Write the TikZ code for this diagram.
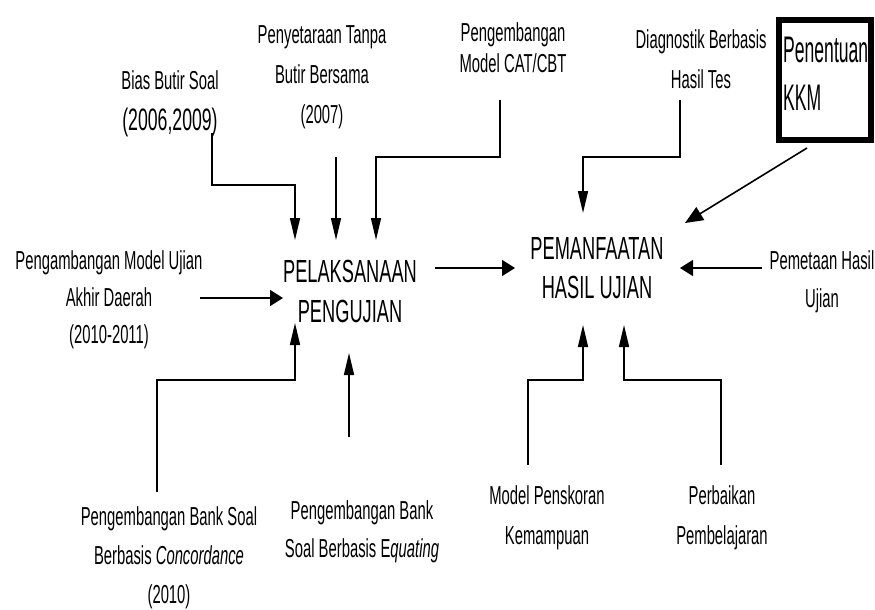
\documentclass[tikz,border=0pt]{standalone}
\usepackage{fontspec}
\setmainfont{Liberation Sans}[FakeStretch=0.57]
\newfontfamily\kkmfont{Liberation Sans}[FakeStretch=0.475]
\usetikzlibrary{arrows.meta}
\tikzset{
  lbl/.style={align=center, inner sep=0pt, font=\fontsize{26}{39}\selectfont},
  big/.style={align=center, inner sep=0pt, font=\fontsize{32}{40}\selectfont},
  conn/.style={line width=1.6pt},
  varr/.style={conn, -{Triangle[length=22pt,width=10pt]}},
  harr/.style={conn, -{Triangle[length=13pt,width=16pt]}},
  darr/.style={conn, -{Triangle[length=18pt,width=15pt]}},
}
\begin{document}
\begin{tikzpicture}[x=1pt,y=-1pt]
\useasboundingbox (0,0) rectangle (875,610);
% text nodes
\node[lbl, font=\fontsize{26}{41}\selectfont] (bias) at (170,104) {Bias Butir Soal\\{\fontsize{31}{41}\selectfont(2006,2009)}};
\node[lbl, font=\fontsize{26}{40}\selectfont] (peny) at (322,77) {Penyetaraan Tanpa\\Butir Bersama\\(2007)};
\node[lbl, font=\fontsize{26}{31}\selectfont] (cat) at (513,48) {Pengembangan\\Model CAT/CBT};
\node[lbl, font=\fontsize{26}{40}\selectfont] (diag) at (701,59) {Diagnostik Berbasis\\Hasil Tes};
\node[lbl, font=\fontsize{26}{37}\selectfont] (pud) at (109,300) {Pengambangan Model Ujian\\Akhir Daerah\\(2010-2011)};
\node[big] (pel) at (350,291) {PELAKSANAAN\\PENGUJIAN};
\node[big, font=\fontsize{32}{39}\selectfont] (pem) at (597,268) {PEMANFAATAN\\HASIL UJIAN};
\node[lbl, font=\fontsize{26}{38}\selectfont] (pmt) at (822,282) {Pemetaan Hasil\\Ujian};
\node[lbl] (conc) at (169,558) {Pengembangan Bank Soal\\Berbasis \textit{Concordance}\\(2010)};
\node[lbl, font=\fontsize{26}{38}\selectfont] (equ) at (362,532) {Pengembangan Bank\\Soal Berbasis E\textit{quating}};
\node[lbl, font=\fontsize{26}{40}\selectfont] (mod) at (547,518) {Model Penskoran\\Kemampuan};
\node[lbl, font=\fontsize{26}{40}\selectfont] (perb) at (722,518) {Perbaikan\\Pembelajaran};
% KKM box
\node[draw, line width=6pt, minimum width=92pt, minimum height=120pt, inner sep=0pt] (kkmbox) at (825,80) {};
\node[anchor=north west, inner sep=0pt, align=left, font=\kkmfont\fontsize{37}{48}\selectfont] (kkm) at (783,37) {Penentuan\\KKM};
% connector coordinates
\coordinate (biasS) at (212,133);
\coordinate (pelT1) at (295,240);
\coordinate (penyS) at (336,157);
\coordinate (pelT2) at (336,240);
\coordinate (catS) at (500,100);
\coordinate (pelT3) at (376,240);
\coordinate (diagS) at (680,100);
\coordinate (pemT1) at (583,213);
\coordinate (kkmS) at (807,148);
\coordinate (pemT2) at (685,223);
\coordinate (pudE) at (200,298);
\coordinate (pelL) at (283,298);
\coordinate (pelR) at (435,268);
\coordinate (pemL) at (515,268);
\coordinate (pmtS) at (762,268);
\coordinate (pemR) at (680,268);
\coordinate (concN) at (157,492);
\coordinate (pelB1) at (295,323);
\coordinate (equN) at (349,437);
\coordinate (pelB2) at (349,353);
\coordinate (modN) at (528,465);
\coordinate (pemB1) at (583,325);
\coordinate (perbN) at (721,465);
\coordinate (pemB2) at (624,325);
% connectors
\draw[varr] (biasS) |- (253,185) -| (pelT1);
\draw[varr] (penyS) -- (pelT2);
\draw[varr] (catS) |- (438,157) -| (pelT3);
\draw[varr] (diagS) |- (630,157) -| (pemT1);
\draw[darr] (kkmS) -- (pemT2);
\draw[harr] (pudE) -- (pelL);
\draw[harr] (pelR) -- (pemL);
\draw[harr] (pmtS) -- (pemR);
\draw[varr] (concN) |- (226,380) -| (pelB1);
\draw[varr] (equN) -- (pelB2);
\draw[varr] (modN) |- (555,380) -| (pemB1);
\draw[varr] (perbN) |- (670,380) -| (pemB2);
\end{tikzpicture}
\end{document}
